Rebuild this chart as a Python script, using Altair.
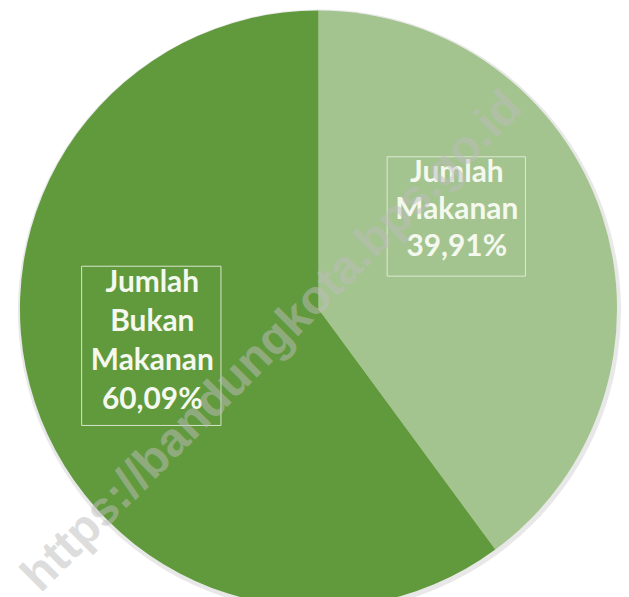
import altair as alt
import pandas as pd

categories = ["Jumlah Makanan", "Jumlah Bukan Makanan"]
values = [39.91, 60.09]
colors = ["#a3c48e", "#619a3c"]
label_lines = [["Jumlah", "Makanan", "39,91%"], ["Jumlah", "Bukan", "Makanan", "60,09%"]]
watermark = "https://bandungkota.bps.go.id"

W, H = 613, 581
CX, CY, R = 312, 293, 300

df = pd.DataFrame({"cat": categories, "val": values, "ord": list(range(len(categories)))})

base = alt.Chart(df)

pie = base.mark_arc(outerRadius=R, stroke=None).encode(
    theta=alt.Theta("val:Q", stack=True),
    order=alt.Order("ord:Q"),
    color=alt.Color("cat:N", scale=alt.Scale(domain=categories, range=colors), legend=None),
    x=alt.value(CX), y=alt.value(CY),
)

shadow = base.mark_arc(outerRadius=R + 3, color="#d8d8d8", opacity=0.6).encode(
    theta=alt.Theta("val:Q", stack=True),
    order=alt.Order("ord:Q"),
    x=alt.value(CX + 1), y=alt.value(CY + 2),
)

# label boxes and texts
box_pos = [(381, 140, 520, 260), (74, 250, 214, 410)]
text_pos = [(451, 156), (145, 267)]
line_h = [37.5, 39]

layers = [shadow, pie]
for i in range(len(categories)):
    x1, y1, x2, y2 = box_pos[i]
    box = alt.Chart(pd.DataFrame({"a": [0]})).mark_rect(
        fill=None, stroke="#e4eedc", strokeWidth=1, opacity=0.9
    ).encode(x=alt.value(x1), x2=alt.value(x2), y=alt.value(y1), y2=alt.value(y2))
    tx, ty = text_pos[i]
    txt = alt.Chart(pd.DataFrame({"a": [0]})).mark_text(
        text=label_lines[i], font="Lato", fontWeight="bold", fontSize=30,
        lineHeight=line_h[i], color="#f4f8ee", align="center", baseline="middle",
    ).encode(x=alt.value(tx), y=alt.value(ty))
    layers += [box, txt]

wm = alt.Chart(pd.DataFrame({"a": [0]})).mark_text(
    text=watermark, font="Liberation Sans", fontWeight="bold", fontSize=48,
    angle=315, color="#bdbdbd", opacity=0.5, align="center", baseline="middle",
).encode(x=alt.value(266), y=alt.value(326))
layers.append(wm)

chart = alt.layer(*layers).properties(
    width=W, height=H, padding=0,
).configure_view(stroke=None)

chart.save("out.html", embed_options={"renderer": "svg", "actions": False})
